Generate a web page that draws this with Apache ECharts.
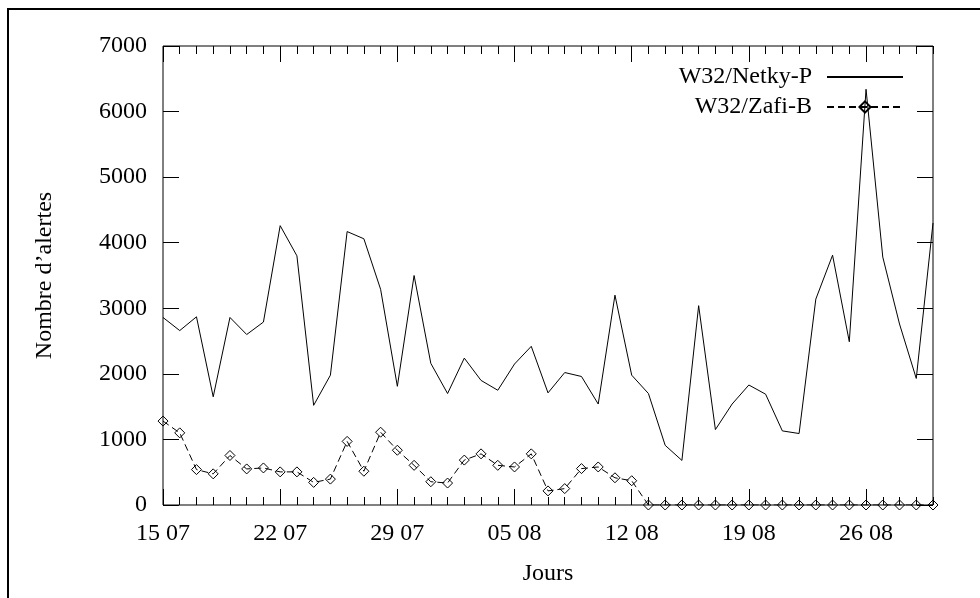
<!DOCTYPE html>
<html>
<head>
<meta charset="utf-8">
<script src="https://cdn.jsdelivr.net/npm/echarts@6/dist/echarts.min.js"></script>
<style>
  html, body { margin: 0; padding: 0; background: #fff; }
  #chart { width: 980px; height: 598px; }
</style>
</head>
<body>
<div id="chart"></div>
<script>
// jours (jj mm)
const days = [
  '15 07', '16 07', '17 07', '18 07', '19 07', '20 07', '21 07', '22 07', '23 07', '24 07',
  '25 07', '26 07', '27 07', '28 07', '29 07', '30 07', '31 07', '01 08', '02 08', '03 08',
  '04 08', '05 08', '06 08', '07 08', '08 08', '09 08', '10 08', '11 08', '12 08', '13 08',
  '14 08', '15 08', '16 08', '17 08', '18 08', '19 08', '20 08', '21 08', '22 08', '23 08',
  '24 08', '25 08', '26 08', '27 08', '28 08', '29 08', '30 08'
]

const netky = [
  2860, 2660, 2870, 1650, 2860, 2600, 2790, 4260, 3800, 1520,
  1980, 4170, 4060, 3290, 1810, 3500, 2160, 1700, 2240, 1900,
  1750, 2150, 2420, 1710, 2020, 1960, 1540, 3200, 1980, 1700,
  910, 680, 3040, 1150, 1540, 1830, 1690, 1130, 1090, 3140,
  3810, 2490, 6340, 3780, 2760, 1930, 4300
]

const zafi = [
  1280, 1100, 540, 475, 755, 550, 565, 505, 505, 345,
  395, 970, 515, 1110, 835, 605, 355, 335, 685, 780,
  605, 580, 780, 215, 250, 555, 580, 415, 370, 0,
  0, 0, 0, 0, 0, 0, 0, 0, 0, 0,
  0, 0, 0, 0, 0, 0, 0
]

const font = '"Liberation Serif", "Times New Roman", serif'

// axe des jours : petits traits chaque jour, grands chaque semaine
const dayAxis = (position, major, labels) => ({
  type: 'category',
  position: position,
  data: days,
  boundaryGap: false,
  axisLine: { show: false },
  axisTick: {
    show: true,
    inside: true,
    interval: major ? 6 : 0,
    length: major ? 16 : 8,
    lineStyle: { color: '#000', width: 1 }
  },
  axisLabel: {
    show: labels,
    interval: 6,
    margin: 17,
    color: '#000',
    fontFamily: font,
    fontSize: 24
  },
  splitLine: { show: false }
})

const chart = echarts.init(document.getElementById('chart'))
chart.setOption({
  animation: false,
  backgroundColor: '#fff',
  graphic: [{
    type: 'polyline',
    shape: { points: [[8, 598], [8, 9], [980, 9]] },
    style: { stroke: '#000', lineWidth: 2, fill: null }
  }],
  grid: {
    left: 163,
    right: 47,
    top: 46,
    bottom: 93,
    show: true,
    borderColor: '#000',
    borderWidth: 1,
    backgroundColor: 'transparent'
  },
  legend: {
    orient: 'vertical',
    right: 76,
    top: 65,
    align: 'right',
    itemWidth: 76,
    itemHeight: 14,
    itemGap: 6,
    padding: 0,
    textStyle: {
      color: '#000',
      fontFamily: font,
      fontSize: 24,
      padding: [0, 10, 0, 0]
    },
    data: [
      { name: 'W32/Netky-P', itemStyle: { opacity: 0, borderWidth: 0 } },
      { name: 'W32/Zafi-B' }
    ]
  },
  xAxis: [
    Object.assign(dayAxis('bottom', false, true), {
      name: 'Jours',
      nameLocation: 'middle',
      nameGap: 57,
      nameTextStyle: { color: '#000', fontFamily: font, fontSize: 24 }
    }),
    dayAxis('bottom', true, false),
    dayAxis('top', false, false),
    dayAxis('top', true, false)
  ],
  yAxis: [
    {
      type: 'value',
      position: 'left',
      min: 0,
      max: 7000,
      interval: 1000,
      name: 'Nombre d\u2019alertes',
      nameLocation: 'middle',
      nameGap: 106,
      nameTextStyle: { color: '#000', fontFamily: font, fontSize: 24 },
      axisLine: { show: false },
      axisTick: { show: true, inside: true, length: 16, lineStyle: { color: '#000' } },
      axisLabel: {
        margin: 16,
        color: '#000',
        fontFamily: font,
        fontSize: 24,
        formatter: v => String(v)
      },
      splitLine: { show: false }
    },
    {
      type: 'value',
      position: 'right',
      min: 0,
      max: 7000,
      interval: 1000,
      axisLine: { show: false },
      axisTick: { show: true, inside: true, length: 16, lineStyle: { color: '#000' } },
      axisLabel: { show: false },
      splitLine: { show: false }
    }
  ],
  series: [
    {
      name: 'W32/Netky-P',
      type: 'line',
      data: netky,
      symbol: 'none',
      lineStyle: { color: '#000', width: 1 },
      itemStyle: { color: '#000' }
    },
    {
      name: 'W32/Zafi-B',
      type: 'line',
      data: zafi,
      symbol: 'diamond',
      symbolSize: 10,
      showAllSymbol: true,
      lineStyle: { color: '#000', width: 1, type: [7, 4] },
      itemStyle: { color: 'rgba(255,255,255,0)', borderColor: '#000', borderWidth: 1 }
    }
  ]
})
</script>
</body>
</html>
